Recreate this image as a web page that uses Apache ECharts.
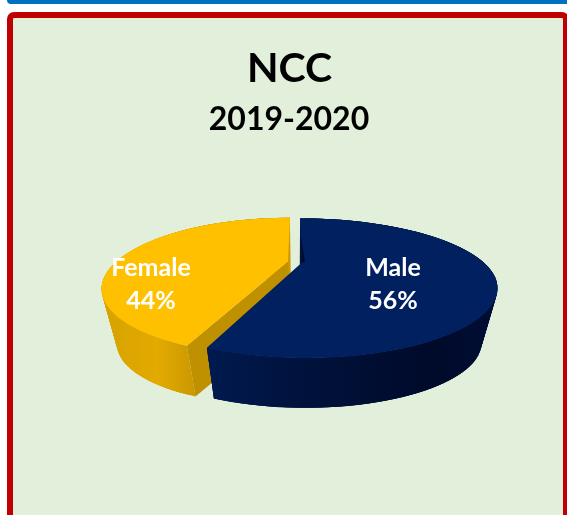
<!DOCTYPE html>
<html>
<head>
<meta charset="utf-8">
<title>NCC 2019-2020</title>
<style>
  html, body { margin: 0; padding: 0; background: #fff; }
  #chart { width: 567px; height: 515px; }
</style>
<script src="https://cdn.jsdelivr.net/npm/echarts@6/dist/echarts.min.js"></script>
</head>
<body>
<div id="chart"></div>
<script>
const chartTitle = 'NCC';
const chartSubtitle = '2019-2020';
const sliceNames = ['Male', 'Female'];
const sliceValues = [56, 44];
const topColors = ['#002060', '#FFC000'];
const cutColors = ['#00113A', '#BF9000'];
const labelCenters = [[393, 284], [151, 284]];

// tilted pie: disc coords go through a small perspective projection
const cx = 295, cy = 262;
const halfW = 176.7, halfH = 60.1, persp = 0.367;
const keystone = 4.2;
const explode = 0.04;
const floorScale = 0.92, floorDrop = 57.5;

function project(X, Y, floor) {
  const w = 1 + persp * Y;
  const s = floor ? floorScale : 1;
  return [
    cx + s * (halfW * X / w + keystone * X * X),
    cy - s * halfH * Y / w + (floor ? floorDrop : 0)
  ];
}

const total = sliceValues.reduce((a, b) => a + b, 0);

function sliceAngles(index) {
  let start = 0;
  for (let i = 0; i < index; i++) start += sliceValues[i] / total * Math.PI * 2;
  return [start, start + sliceValues[index] / total * Math.PI * 2];
}

function wallFill(index) {
  if (index === 0) {
    return new echarts.graphic.LinearGradient(205, 0, 490, 0, [
      { offset: 0, color: '#001A50' },
      { offset: 0.35, color: '#00123C' },
      { offset: 0.8, color: '#000A2A' },
      { offset: 1, color: '#000D33' }
    ], true);
  }
  return new echarts.graphic.LinearGradient(100, 0, 195, 0, [
    { offset: 0, color: '#D6A200' },
    { offset: 0.6, color: '#E3AA00' },
    { offset: 1, color: '#CB9800' }
  ], true);
}

function renderSlice(params, api) {
  const i = params.dataIndex;
  // navy slice sits in front of the gold one
  const base = i === 0 ? 10 : 1;
  const [start, end] = sliceAngles(i);
  const mid = (start + end) / 2;
  const ox = explode * Math.sin(mid);
  const oy = explode * Math.cos(mid);

  const topRim = [], floorRim = [];
  const steps = 90;
  for (let s = 0; s <= steps; s++) {
    const a = start + (end - start) * s / steps;
    topRim.push(project(ox + Math.sin(a), oy + Math.cos(a), false));
    floorRim.push(project(ox + Math.sin(a), oy + Math.cos(a), true));
  }
  const apexTop = project(ox, oy, false);
  const apexFloor = project(ox, oy, true);

  const children = [];
  // outer wall, overlapping strips so the silhouette stays closed with no seams
  const fill = wallFill(i);
  for (let s = 0; s < steps; s++) {
    const next = Math.min(s + 3, steps);
    children.push({
      type: 'polygon',
      z2: base,
      shape: { points: [topRim[s], topRim[next], floorRim[next], floorRim[s]] },
      style: { fill: fill }
    });
  }
  // cut face, only the one facing the viewer
  if (i === 1) {
    children.push({
      type: 'polygon',
      z2: base + 1,
      shape: { points: [apexTop, topRim[0], floorRim[0], apexFloor] },
      style: { fill: cutColors[i] }
    });
  }
  // top face
  children.push({
    type: 'polygon',
    z2: base + 2,
    shape: { points: [apexTop].concat(topRim) },
    style: { fill: topColors[i] }
  });
  // thin dark sliver along the back cut of the navy slice
  if (i === 0) {
    children.push({
      type: 'polygon',
      z2: base + 3,
      shape: { points: [project(ox, oy + 0.55, false), apexTop, project(ox + 0.017, oy, false)] },
      style: { fill: '#000B2D' }
    });
  }
  children.push({
    type: 'text',
    z2: 30,
    style: {
      text: sliceNames[i] + '\n' + api.value(0) + '%',
      x: labelCenters[i][0],
      y: labelCenters[i][1],
      fill: '#fff',
      font: 'bold 25px Lato',
      lineHeight: 33,
      align: 'center',
      verticalAlign: 'middle'
    }
  });
  return { type: 'group', children: children };
}

const myChart = echarts.init(document.getElementById('chart'), null, { renderer: 'canvas' });

myChart.setOption({
  animation: false,
  backgroundColor: '#fff',
  title: [
    {
      text: chartTitle,
      left: 284.5,
      top: 43,
      textAlign: 'center',
      textStyle: { color: '#000', fontFamily: 'Lato', fontWeight: 'bold', fontSize: 41 }
    },
    {
      text: chartSubtitle,
      left: 284,
      top: 99,
      textAlign: 'center',
      textStyle: { color: '#000', fontFamily: 'Lato', fontWeight: 'bold', fontSize: 32 }
    }
  ],
  graphic: [
    {
      type: 'rect',
      z: -1,
      shape: { x: 7, y: -10, width: 580, height: 14, r: 4 },
      style: { fill: '#0070C0' }
    },
    {
      type: 'rect',
      z: -1,
      shape: { x: 10, y: 15, width: 556, height: 540, r: 4 },
      style: { fill: '#E2EFDA', stroke: '#C00000', lineWidth: 6 }
    }
  ],
  series: [{
    type: 'custom',
    coordinateSystem: 'none',
    silent: true,
    renderItem: renderSlice,
    data: sliceValues
  }]
});
</script>
</body>
</html>
